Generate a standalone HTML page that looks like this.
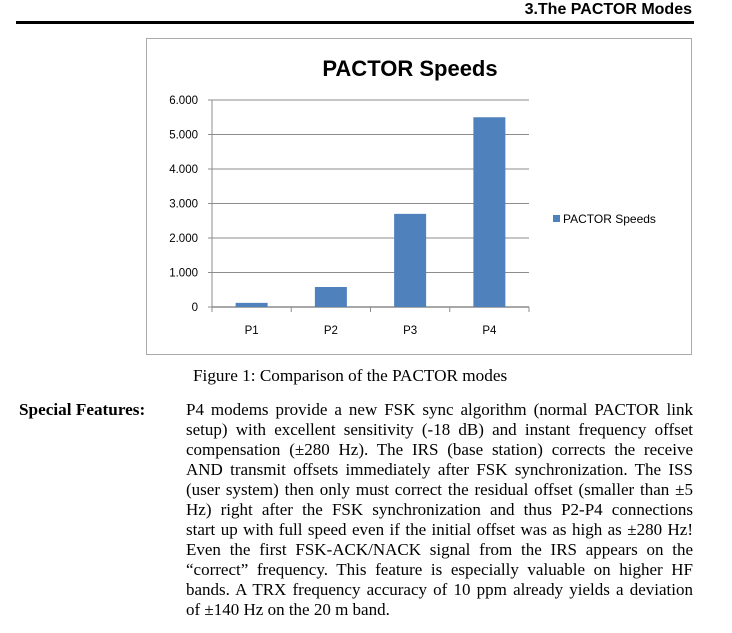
<!DOCTYPE html>
<html><head><meta charset="utf-8"><style>
body{margin:0;width:732px;height:633px;background:#fff;position:relative;overflow:hidden;font-family:"Liberation Serif",serif;}
.hdr{position:absolute;right:40px;top:1px;font:bold 16px "Liberation Sans",sans-serif;}
.rule{position:absolute;left:16px;top:21px;width:678px;height:3px;background:#000;}
.frame{position:absolute;left:146px;top:38px;width:546px;height:317px;border:1px solid #aaa;box-sizing:border-box;}
.cap{position:absolute;left:193px;top:366px;font-size:17.2px;}
.sf{position:absolute;left:19px;top:400px;font-size:17.2px;font-weight:bold;}
.para{position:absolute;left:186px;top:400px;width:507px;font-size:17px;line-height:20px;}
.para div{text-align:justify;text-align-last:justify;white-space:nowrap;}
.para div.last{text-align-last:left;}
</style></head><body>
<div class="hdr">3.The PACTOR Modes</div>
<div class="rule"></div>
<div class="frame"></div>
<svg id="chart" width="732" height="633" style="position:absolute;left:0;top:0"></svg>
<div class="cap">Figure 1: Comparison of the PACTOR modes</div>
<div class="sf">Special Features:</div>
<div class="para">
<div>P4 modems provide a new FSK sync algorithm (normal PACTOR link</div>
<div>setup) with excellent sensitivity (-18 dB) and instant frequency offset</div>
<div>compensation (±280 Hz). The IRS (base station) corrects the receive</div>
<div>AND transmit offsets immediately after FSK synchronization. The ISS</div>
<div>(user system) then only must correct the residual offset (smaller than ±5</div>
<div>Hz) right after the FSK synchronization and thus P2-P4 connections</div>
<div>start up with full speed even if the initial offset was as high as ±280 Hz!</div>
<div>Even the first FSK-ACK/NACK signal from the IRS appears on the</div>
<div>“correct” frequency. This feature is especially valuable on higher HF</div>
<div>bands. A TRX frequency accuracy of 10 ppm already yields a deviation</div>
<div class="last">of ±140 Hz on the 20 m band.</div>
</div>
<script>
const categories=["P1","P2","P3","P4"];
const speeds=[120,580,2700,5500];
const yTicks=[0,1000,2000,3000,4000,5000,6000];
const yTickLabels=["0","1.000","2.000","3.000","4.000","5.000","6.000"];
const NS="http://www.w3.org/2000/svg";
const svg=document.getElementById("chart");
const X0=212,X1=529,Y0=307,Y1=100,YMAX=6000;
const y=v=>Y0-(v/YMAX)*(Y0-Y1);
const bw=(X1-X0)/categories.length;
const x=i=>X0+bw*i;
function mk(t,a){const e=document.createElementNS(NS,t);for(const k in a)e.setAttribute(k,a[k]);svg.appendChild(e);return e;}
const F='"Liberation Sans",sans-serif';
yTicks.forEach((v,i)=>{
 if(v>0){const g=mk("line",{x1:X0,x2:X1,y1:y(v),y2:y(v),stroke:"#8c8c8c","stroke-width":1});
 
 }
 const tk=mk("line",{x1:X0-4,x2:X0,y1:y(v),y2:y(v),stroke:"#8c8c8c"});
 
 
 const t=mk("text",{x:X0-14,y:y(v)+4,"text-anchor":"end","font-size":"11.5","font-family":F,fill:"#000"});
 t.textContent=yTickLabels[i];
 
 
});
const ya=mk("line",{x1:X0,x2:X0,y1:Y1,y2:Y0,stroke:"#8c8c8c"});


const xa=mk("line",{x1:X0,x2:X1,y1:Y0,y2:Y0,stroke:"#8c8c8c","stroke-width":1.5});


for(let i=0;i<=categories.length;i++){
 const tk=mk("line",{x1:x(i),x2:x(i),y1:Y0,y2:Y0+5,stroke:"#8c8c8c"});
 
 
}
categories.forEach((c,i)=>{
 const w=32,cx=x(i)+bw/2;
 const r=mk("rect",{x:cx-w/2,y:y(speeds[i]),width:w,height:Y0-y(speeds[i]),fill:"#4f81bd"});
 
 
 const t=mk("text",{x:cx,y:334,"text-anchor":"middle","font-size":"11.5","font-family":F});
 t.textContent=c;
 
 
});
const title=mk("text",{x:410,y:76,"text-anchor":"middle","font-size":"22","font-weight":"bold","font-family":F});
title.textContent="PACTOR Speeds";


const lk=mk("rect",{x:553,y:215,width:7,height:7,fill:"#4f81bd"});


const lt=mk("text",{x:563,y:223,"font-size":"12","font-family":F});
lt.textContent="PACTOR Speeds";


</script>
</body></html>
